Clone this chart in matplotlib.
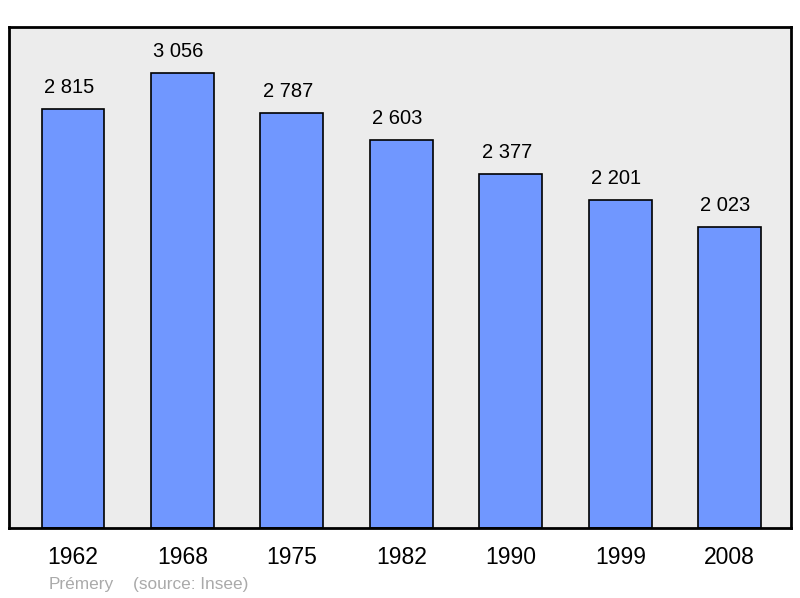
import matplotlib.pyplot as plt

years = ["1962", "1968", "1975", "1982", "1990", "1999", "2008"]
population = [2815, 3056, 2787, 2603, 2377, 2201, 2023]
value_labels = ["2 815", "3 056", "2 787", "2 603", "2 377", "2 201", "2 023"]

plt.rcParams['font.family'] = ['Liberation Sans', 'DejaVu Sans']

fig = plt.figure(figsize=(8, 5.98), dpi=100)
ax = fig.add_axes([9 / 800, 70 / 598, 782 / 800, 501 / 598])
ax.set_facecolor('#ececec')

x = list(range(len(years)))
ax.bar(x, population, width=0.575, color='#7097ff', edgecolor='black', linewidth=1.2, zorder=2)

# value labels above each bar
for xi, val, lab in zip(x, population, value_labels):
    ax.annotate(lab, (xi, val), xytext=(-3, 15.5), textcoords='offset points',
                ha='center', va='center', fontsize=14.5)

ax.set_xlim(-0.585, 6.56)
ax.set_ylim(0, 3365)
ax.set_yticks([])
ax.set_xticks(x)
ax.set_xticklabels(years, fontsize=16.5)
ax.tick_params(axis='x', length=0, pad=13)
for s in ax.spines.values():
    s.set_linewidth(2)

fig.text(49 / 800, 1 - 584 / 598, "Prémery", color='#aaaaaa', fontsize=12.4, va='center')
fig.text(133 / 800, 1 - 584 / 598, "(source: Insee)", color='#aaaaaa', fontsize=12.4, va='center')

fig.savefig('out.png', dpi=100)
